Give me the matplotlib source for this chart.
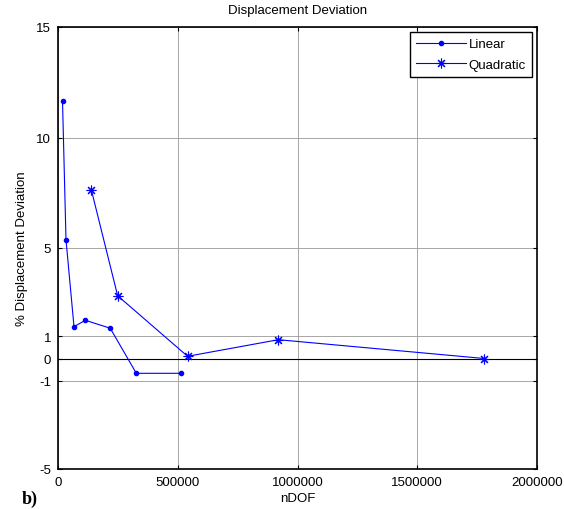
import matplotlib
matplotlib.use('Agg')
import matplotlib.pyplot as plt

plt.rcParams['font.family'] = ['Liberation Sans', 'DejaVu Sans']
plt.rcParams['font.size'] = 9.5
plt.rcParams['axes.unicode_minus'] = False

# data
lin_ndof = [18800, 33400, 66800, 114000, 218000, 327000, 514000]
lin_dev = [11.65, 5.37, 1.44, 1.73, 1.37, -0.67, -0.67]
quad_ndof = [139000, 249000, 541000, 920000, 1780000]
quad_dev = [7.64, 2.84, 0.1, 0.85, 0.0]

yticks = [-5, -1, 0, 1, 5, 10, 15]
xticks = [0, 500000, 1000000, 1500000, 2000000]

fig = plt.figure(figsize=(5.64, 5.10), dpi=100)
ax = fig.add_axes([58/564, 1 - 470/510, (537 - 58)/564, (470 - 28)/510])

ax.plot(lin_ndof, lin_dev, color='b', linewidth=0.8, marker='.', markersize=6, label='Linear')
ax.plot(quad_ndof, quad_dev, color='b', linewidth=0.8, marker=(8, 2, 0), markersize=7,
        markeredgewidth=0.8, label='Quadratic')

ax.axhline(0, color='k', linewidth=0.8, zorder=1)
ax.grid(True, color='#999999', linestyle='-', linewidth=0.6)
ax.set_axisbelow(True)

ax.set_xlim(0, 2000000)
ax.set_ylim(-5, 15)
ax.set_xticks(xticks)
ax.set_xticklabels([str(t) for t in xticks])
ax.set_yticks(yticks)
ax.tick_params(direction='in', top=True, right=True, length=3, width=0.8, pad=5)
for s in ax.spines.values():
    s.set_linewidth(1.2)

ax.set_title('Displacement Deviation', fontsize=9.5, pad=10)
ax.set_xlabel('nDOF', labelpad=3)
ax.set_ylabel('% Displacement Deviation', labelpad=6)

leg = ax.legend(loc='upper right', fancybox=False, framealpha=1, edgecolor='k',
                borderpad=0.45, labelspacing=0.6, handlelength=3.8, handletextpad=0.2,
                borderaxespad=0.4)
leg.get_frame().set_linewidth(1.0)

# panel tag, cut by the bottom edge in the reference; kept fully visible here
fig.text(22/564, 1 - 508/510, 'b)', fontsize=13, fontweight='bold', family='Liberation Serif',
         va='bottom')

fig.savefig('out.png', dpi=100)
